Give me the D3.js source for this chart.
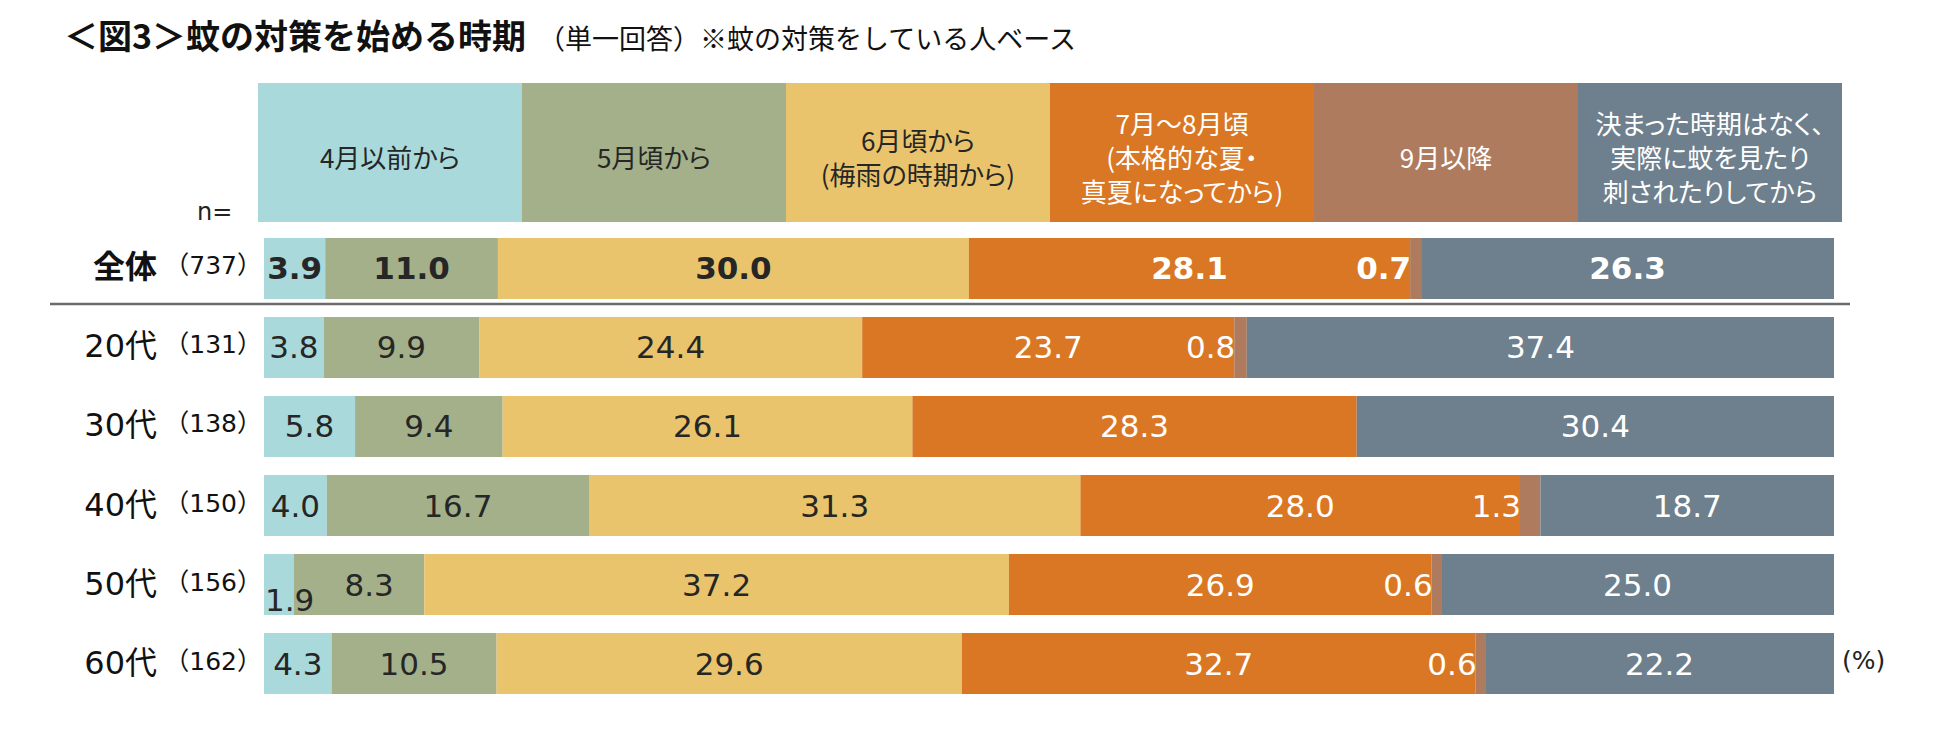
<!DOCTYPE html>
<html lang="ja">
<head>
<meta charset="UTF-8">
<title>蚊の対策を始める時期</title>
<style>
  body { margin: 0; background: #fff; }
  svg { display: block; }
</style>
<script src="https://d3js.org/d3.v7.min.js"></script>
</head>
<body>
<div id="chart"></div>
<script>
  // rows and sample sizes
  var rows = ["全体", "20代", "30代", "40代", "50代", "60代"];
  var nCounts = ["737", "131", "138", "150", "156", "162"];

  // answer categories (header box lines)
  var keys = ["apr", "may", "jun", "julaug", "sep", "none"];
  var headerLines = [
    ["4月以前から"],
    ["5月頃から"],
    ["6月頃から", "(梅雨の時期から)"],
    ["7月～8月頃", "(本格的な夏・", "真夏になってから)"],
    ["9月以降"],
    ["決まった時期はなく、", "実際に蚊を見たり", "刺されたりしてから"]
  ];

  // series values (%), one per row
  var aprBefore = [3.9, 3.8, 5.8, 4.0, 1.9, 4.3];
  var mayAbout = [11.0, 9.9, 9.4, 16.7, 8.3, 10.5];
  var junAbout = [30.0, 24.4, 26.1, 31.3, 37.2, 29.6];
  var julAug = [28.1, 23.7, 28.3, 28.0, 26.9, 32.7];
  var sepAfter = [0.7, 0.8, 0.0, 1.3, 0.6, 0.6];
  var noFixed = [26.3, 37.4, 30.4, 18.7, 25.0, 22.2];

  var colors = ["#a9d9db", "#a3b08a", "#e9c46c", "#d97724", "#ae7b5f", "#6e7f8d"];
  var textColors = ["#262626", "#262626", "#262626", "#fff", "#fff", "#fff"];

  var table = rows.map(function(r, i) {
    return { row: r, n: nCounts[i], apr: aprBefore[i], may: mayAbout[i], jun: junAbout[i],
             julaug: julAug[i], sep: sepAfter[i], none: noFixed[i] };
  });

  var width = 1950, height = 740;
  var numFont = "'DejaVu Sans', 'Noto Sans CJK JP', sans-serif";
  var jpFont = "'Noto Sans CJK JP', sans-serif";

  var svg = d3.select("#chart").append("svg")
    .attr("width", width)
    .attr("height", height);

  // title
  var title = svg.append("text")
    .attr("x", 64)
    .attr("y", 49)
    .attr("font-family", jpFont)
    .attr("fill", "#111");
  title.append("tspan")
    .attr("font-size", 34)
    .attr("font-weight", 700)
    .text("＜図3＞蚊の対策を始める時期");
  title.append("tspan")
    .attr("font-size", 27)
    .attr("dx", 12)
    .text("（単一回答）※蚊の対策をしている人ベース");

  var x = d3.scaleLinear().domain([0, 1]).range([264, 1834]);
  var xHead = d3.scaleBand().domain(keys).range([258, 1842]);
  var y = d3.scaleBand().domain(rows).range([238, 694]).paddingInner(0.228);
  var color = d3.scaleOrdinal().domain(keys).range(colors);
  var txtColor = d3.scaleOrdinal().domain(keys).range(textColors);

  // header boxes
  var head = svg.append("g").selectAll("g")
    .data(keys)
    .join("g");
  head.append("rect")
    .attr("x", function(k) { return xHead(k); })
    .attr("y", 83)
    .attr("width", xHead.bandwidth())
    .attr("height", 139)
    .attr("fill", function(k) { return color(k); });
  head.each(function(k, i) {
    var lines = headerLines[i];
    var cx = xHead(k) + xHead.bandwidth() / 2;
    var lh = 34;
    var y0 = 159 - (lines.length - 1) * lh / 2 + 9;
    d3.select(this).selectAll("text")
      .data(lines)
      .join("text")
      .attr("x", cx)
      .attr("y", function(d, j) { return y0 + j * lh; })
      .attr("font-family", jpFont)
      .attr("font-size", 26)
      .attr("text-anchor", "middle")
      .style("font-feature-settings", "'palt' 1")
      .attr("fill", txtColor(k))
      .text(function(d) { return d; });
  });

  svg.append("text")
    .attr("x", 197)
    .attr("y", 220)
    .attr("font-family", numFont)
    .attr("font-size", 24)
    .attr("fill", "#222")
    .text("n=");

  // stacked bars
  var series = d3.stack().keys(keys).offset(d3.stackOffsetExpand)(table);

  var layer = svg.append("g").selectAll("g")
    .data(series)
    .join("g")
    .attr("fill", function(s) { return color(s.key); });

  layer.selectAll("rect")
    .data(function(s) { return s; })
    .join("rect")
    .attr("x", function(d) { return x(d[0]); })
    .attr("y", function(d) { return y(d.data.row); })
    .attr("width", function(d) { return x(d[1]) - x(d[0]); })
    .attr("height", y.bandwidth());

  // value labels
  var fmt = d3.format(".1f");
  series.forEach(function(s) {
    svg.append("g").selectAll("text")
      .data(s.filter(function(d) { return d.data[s.key] > 0; }))
      .join("text")
      .attr("font-family", numFont)
      .attr("font-size", 31)
      .attr("font-weight", function(d) { return d.data.row === "全体" ? 700 : 400; })
      .attr("fill", txtColor(s.key))
      .attr("text-anchor", function(d) {
        if (s.key === "sep") return "end";
        if (s.key === "apr" && d.data.apr < 3) return "start";
        return "middle";
      })
      .attr("x", function(d) {
        if (s.key === "sep") return x(d[0]) + 1;
        if (s.key === "apr" && d.data.apr < 3) return x(d[0]) + 1;
        // nudge right when the previous label sits low at the left edge
        if (s.key === "may" && d.data.apr < 3) return (x(d[0]) + x(d[1])) / 2 + 10;
        return (x(d[0]) + x(d[1])) / 2;
      })
      .attr("y", function(d) {
        if (s.key === "apr" && d.data.apr < 3) return y(d.data.row) + y.bandwidth() - 4;
        return y(d.data.row) + y.bandwidth() / 2 + 11;
      })
      .text(function(d) { return fmt(d.data[s.key]); });
  });

  // row labels
  svg.append("g").selectAll("text")
    .data(table)
    .join("text")
    .attr("x", 157)
    .attr("y", function(d) { return y(d.row) + y.bandwidth() / 2 + 10; })
    .attr("text-anchor", "end")
    .attr("font-family", numFont)
    .attr("font-size", 32)
    .attr("font-weight", function(d) { return d.row === "全体" ? 700 : 400; })
    .attr("fill", "#111")
    .text(function(d) { return d.row; });

  svg.append("g").selectAll("text")
    .data(table)
    .join("text")
    .attr("x", 262)
    .attr("y", function(d) { return y(d.row) + y.bandwidth() / 2 + 6; })
    .attr("text-anchor", "end")
    .attr("font-family", numFont)
    .attr("font-size", 25)
    .attr("fill", "#111")
    .text(function(d) { return "（" + d.n + "）"; });

  // separator under the total row
  svg.append("line")
    .attr("x1", 50)
    .attr("x2", 1850)
    .attr("y1", 304)
    .attr("y2", 304)
    .attr("stroke", "#6b6b6b")
    .attr("stroke-width", 2.5);

  svg.append("text")
    .attr("x", 1842)
    .attr("y", y("60代") + y.bandwidth() / 2 + 5)
    .attr("font-family", numFont)
    .attr("font-size", 25)
    .attr("fill", "#222")
    .text("(%)");
</script>
</body>
</html>
